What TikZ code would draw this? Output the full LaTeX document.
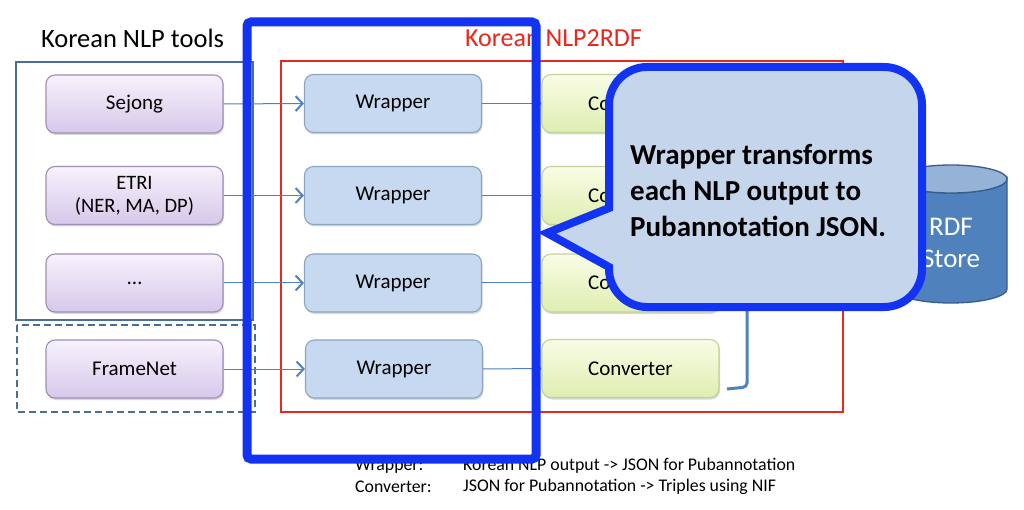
\documentclass[tikz,border=0pt]{standalone}
\usepackage{fontspec}
\setmainfont{Carlito}
\usetikzlibrary{arrows.meta,shadows}
\definecolor{toolblue}{RGB}{74,110,148}
\definecolor{nlpred}{RGB}{232,40,28}
\definecolor{thickblue}{RGB}{18,52,242}
\definecolor{callfill}{RGB}{197,214,236}
\definecolor{wrapfill}{RGB}{198,217,240}
\definecolor{wrapdraw}{RGB}{140,165,195}
\definecolor{purptop}{RGB}{247,242,252}
\definecolor{purpbot}{RGB}{214,200,234}
\definecolor{purpdraw}{RGB}{160,142,180}
\definecolor{convtop}{RGB}{249,252,230}
\definecolor{convbot}{RGB}{222,238,176}
\definecolor{convdraw}{RGB}{196,210,152}
\definecolor{arrowblue}{RGB}{79,129,189}
\definecolor{cylbody}{RGB}{79,129,189}
\definecolor{cyltop}{RGB}{149,179,215}
\definecolor{cyldraw}{RGB}{56,93,138}
\tikzset{
  boxbase/.style={rounded corners=9pt, line width=1.1pt, minimum width=177pt, minimum height=58pt,
    align=center, font=\fontsize{21}{24}\selectfont, inner sep=2pt,
    drop shadow={shadow xshift=1pt, shadow yshift=-2pt, opacity=0.25, fill=black!60}},
  toolbox/.style={boxbase, draw=purpdraw, top color=purptop, bottom color=purpbot},
  wrapbox/.style={boxbase, draw=wrapdraw, fill=wrapfill},
  convbox/.style={boxbase, draw=convdraw, top color=convtop, bottom color=convbot},
  flow/.style={draw=arrowblue, line width=1pt, -{Straight Barb[length=7pt,width=15pt,line width=2pt]}},
  frame/.style={line width=2.4pt},
  legend/.style={font=\fontsize{17.8}{20}\selectfont, anchor=west, inner sep=0pt},
}
\begin{document}
\begin{tikzpicture}[x=1pt,y=-1pt]
\useasboundingbox[fill=white] (0,0) rectangle (1024,510);

% frames
\draw[frame, draw=toolblue] (16,62) rectangle (253,320);
\draw[frame, draw=toolblue, dashed, dash pattern=on 7pt off 4pt] (17,325) rectangle (255,412);
\draw[frame, draw=nlpred] (281,61) rectangle (843,412);

% titles
\node[font=\fontsize{26.5}{30}\selectfont, anchor=center] (ttools) at (132.5,38) {Korean NLP tools};
\node[font=\fontsize{26}{30}\selectfont, text=nlpred, anchor=center] (tnlp) at (553.5,38) {Korean NLP2RDF};

% nodes
\node[toolbox] (t1) at (134.5,104) {Sejong};
\node[toolbox, font=\fontsize{20.5}{23}\selectfont] (t2) at (134.5,195.5) {ETRI\\(NER, MA, DP)};
\node[toolbox] (t3) at (134.5,283) {\raisebox{-2pt}{\dots}};
\node[toolbox] (t4) at (134.5,369) {FrameNet};

\node[wrapbox] (w1) at (393,103.5) {Wrapper};
\node[wrapbox] (w2) at (393,195.5) {Wrapper};
\node[wrapbox] (w3) at (393,283) {Wrapper};
\node[wrapbox] (w4) at (394,369) {Wrapper};

\node[convbox] (c1) at (630.5,103.5) {Converter};
\node[convbox] (c2) at (630.5,195.5) {Converter};
\node[convbox] (c3) at (630.5,283) {Converter};
\node[convbox] (c4) at (630.5,368.5) {Converter};

% arrows
\foreach \i in {1,...,4}{
  \draw[flow] (t\i.east) -- (w\i.west);
  \draw[flow] (w\i.east) -- (c\i.west);
}

% legend
\node[legend] (lw) at (355,466) {Wrapper:};
\node[legend] (lwd) at (463,466) {Korean NLP output -> JSON for Pubannotation};
\node[legend] (lc) at (355,487) {Converter:};
\node[legend] (lcd) at (463,487) {JSON for Pubannotation -> Triples using NIF};

% thick blue highlight
\draw[line width=9pt, draw=thickblue, rounded corners=4pt] (247,22) rectangle (536,459);

% RDF store cylinder
\draw[fill=cylbody, draw=cyldraw, line width=1.3pt]
  (895,179) -- (895,289) arc[start angle=180, end angle=0, x radius=56, y radius=14]
  -- (1007,179) arc[start angle=0, end angle=180, x radius=56, y radius=14] -- cycle;
\draw[fill=cyltop, draw=cyldraw, line width=1.3pt] (951,179) ellipse[x radius=56, y radius=14];
\node[font=\fontsize{27}{32}\selectfont, text=white, align=center] (rdf) at (951,243) {RDF\\Store};

% connector from converters to store
\coordinate (bt) at (747,250);
\coordinate (bb) at (747,387);
\coordinate (be) at (727,389);
\draw[draw=arrowblue, line width=3pt, rounded corners=4pt] (bt) -- (bb) -- (be);

% callout
\draw[line width=8pt, draw=thickblue, fill=callfill, line join=miter]
  (547,233) -- (609,208) -- (609,105) arc[start angle=180, end angle=270, radius=38]
  -- (884,67) arc[start angle=270, end angle=360, radius=38]
  -- (922,269) arc[start angle=0, end angle=90, radius=38]
  -- (647,307) arc[start angle=90, end angle=180, radius=38]
  -- (609,267) -- cycle;
\node[font=\bfseries\fontsize{29}{36}\selectfont, align=left, anchor=west, inner sep=0pt] (ctext) at (630,191)
  {Wrapper transforms\\each NLP output to\\Pubannotation JSON.};
\end{tikzpicture}
\end{document}
